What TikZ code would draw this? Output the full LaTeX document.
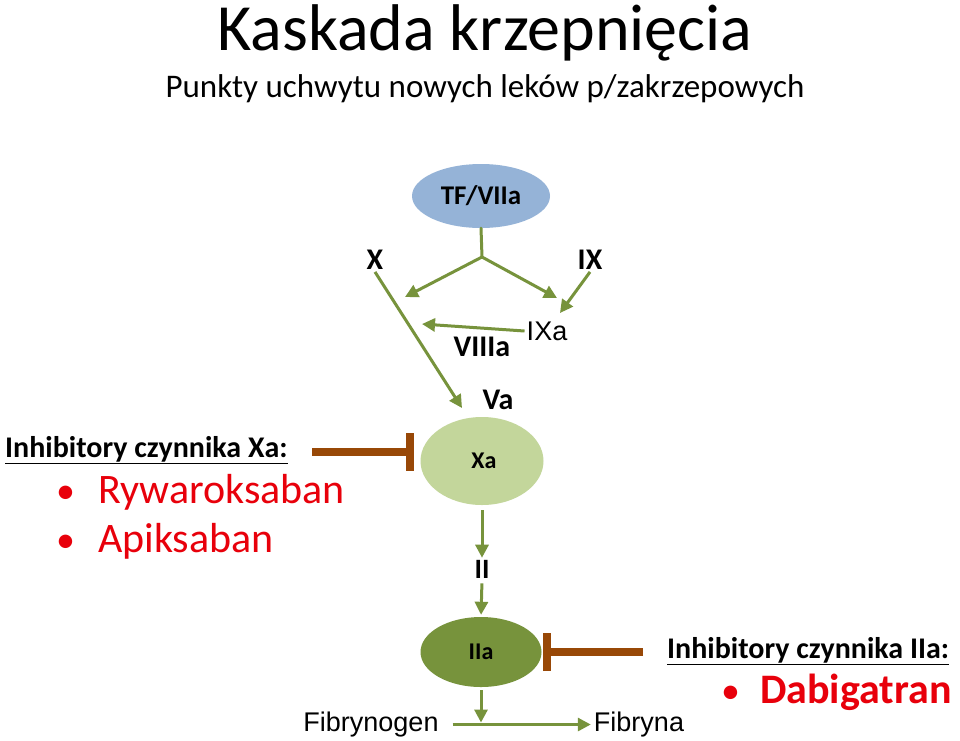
\documentclass[tikz,border=0pt]{standalone}
\usepackage{fontspec}
\setmainfont{Carlito}
\newfontfamily\arialfont{Liberation Sans}
\usetikzlibrary{arrows.meta,shapes.geometric}
\definecolor{tfblue}{HTML}{95B3D7}
\definecolor{xagreen}{HTML}{C3D69B}
\definecolor{iiagreen}{HTML}{77933C}
\definecolor{actgreen}{HTML}{77933C}
\definecolor{inhbrown}{HTML}{984807}
\definecolor{drugred}{HTML}{E8000B}
\newcommand{\fsz}[1]{\fontsize{#1}{#1}\selectfont}
\newcommand{\drugbullet}[1]{\makebox[#1][l]{\hspace{2pt}{\fsz{38}\mdseries•}}}

\begin{document}
\begin{tikzpicture}[
  x=1pt,y=-1pt,
  factor/.style={ellipse,inner sep=0pt,font=\fsz{24}\bfseries},
  lbl/.style={inner sep=2pt,font=\fsz{30}\bfseries},
  thinlbl/.style={inner sep=2pt,font=\arialfont\fsz{27}},
  act/.style={-{Triangle[length=13pt,width=13pt]},line width=3pt,actgreen},
  link/.style={line width=3pt,actgreen,line cap=round},
  inhib/.style={-{Bar[width=38pt]},line width=8pt,inhbrown},
  heading/.style={anchor=base west,inner sep=0pt,font=\fsz{30}\bfseries},
  drug/.style={anchor=base west,inner sep=0pt,font=\fsz{42},text=drugred}
]
\fill[white] (0,0) rectangle (960,740);

% title
\node[anchor=base,inner sep=0pt,font=\fsz{66}] (title) at (485,50) {Kaskada krzepnięcia};
\node[anchor=base,inner sep=0pt,font=\fsz{33}] (subtitle) at (485,97) {Punkty uchwytu nowych leków p/zakrzepowych};

% extrinsic start
\node[factor,fill=tfblue,minimum width=138pt,minimum height=64pt,font=\fsz{27}\bfseries] (tf) at (481,196) {TF/VIIa};
\node[lbl] (x) at (375,260) {X};
\node[lbl] (ix) at (590,260) {IX};
\node[thinlbl] (ixa) at (547,331) {IXa};
\node[lbl] (viiia) at (482,347) {VIIIa};
\node[lbl] (va) at (498,400) {Va};
\coordinate (br) at (482,257);
\coordinate (xtip) at (405,297);
\coordinate (ixtip) at (557,298);
\coordinate (viiitip) at (422,324);
\coordinate (xatip) at (462,408);

\draw[link] (tf.south) -- (br);
\draw[act] (br) -- (xtip);
\draw[act] (br) -- (ixtip);
\draw[act] (ix.south) -- (560,313);
\draw[act] (ixa.west) -- (viiitip);
\draw[act] (x.south) -- (xatip);

% common pathway
\node[factor,fill=xagreen,minimum width=123pt,minimum height=88pt] (xa) at (482,461) {\raisebox{-5pt}{\hspace{4pt}Xa}};
\node[lbl,font=\fsz{28}\bfseries] (ii) at (482,569) {II};
\node[factor,fill=iiagreen,minimum width=121pt,minimum height=70pt] (iia) at (481,652) {IIa};
\node[inner sep=2pt,font=\arialfont\fsz{27}] (fbg) at (371,724.5) {Fibrynogen};
\node[inner sep=2pt,font=\arialfont\fsz{27}] (fbn) at (639,724.5) {Fibryna};

\draw[act,shorten <=5pt] (xa.south) -- (ii.north);
\draw[act,shorten <=3pt,shorten >=2pt] (ii.south) -- (iia.north);
\draw[act,shorten <=3pt,shorten >=2pt] (iia.south) -- (iia.south |- fbg.east);
\draw[act,shorten <=12pt,shorten >=1pt] (fbg.east) -- (fbn.west);

% inhibitors
\node[heading] (hxa) at (5,457) {\underline{Inhibitory czynnika Xa:}};
\node[drug] (riva) at (54,503) {\drugbullet{44pt}Rywaroksaban};
\node[drug] (apix) at (54,552) {\drugbullet{44pt}Apiksaban};
\coordinate (xainh) at (312,452);
\draw[inhib,shorten >=6pt] (xainh) -- (xa.west |- xainh);

\node[heading] (hiia) at (667,658) {\underline{Inhibitory czynnika IIa:}};
\node[drug,font=\fsz{42}\bfseries] (dabi) at (719,703) {\drugbullet{41pt}Dabigatran};
\coordinate (iiainh) at (643,652);
\draw[inhib,shorten >=1pt] (iiainh) -- (iia.east);
\end{tikzpicture}
\end{document}
